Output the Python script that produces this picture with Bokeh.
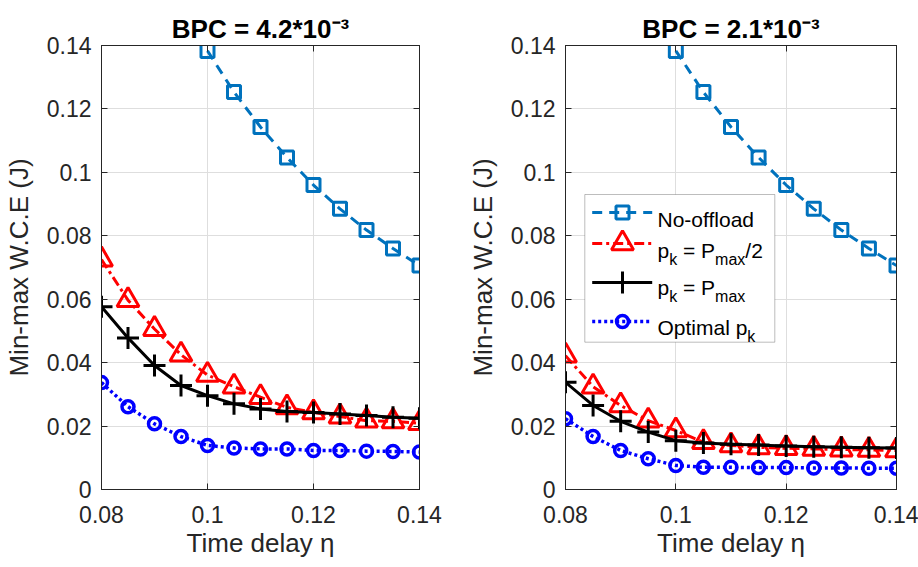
import math
from bokeh.plotting import figure
from bokeh.layouts import row
from bokeh.models import (Range1d, FixedTicker, CustomJSTickFormatter, LinearAxis,
                          Label, BoxAnnotation, Title)
from bokeh.embed import file_html
from bokeh.resources import INLINE

# ---------------- data ----------------
eta = [0.08, 0.085, 0.09, 0.095, 0.10, 0.105, 0.11, 0.115, 0.12, 0.125, 0.13, 0.135, 0.14]
eta_nooffload = [0.10, 0.105, 0.11, 0.115, 0.12, 0.125, 0.13, 0.135, 0.14]

left_nooffload = [0.1383, 0.1253, 0.1143, 0.1047, 0.0960, 0.0885, 0.0818, 0.0760, 0.0706]
left_half = [0.0725, 0.0597, 0.0506, 0.0425, 0.0361, 0.0324, 0.0291, 0.0259, 0.0243, 0.0230, 0.0217, 0.0215, 0.0209]
left_full = [0.0576, 0.0478, 0.0391, 0.0328, 0.0296, 0.0270, 0.0254, 0.0246, 0.0243, 0.0238, 0.0233, 0.0228, 0.0225]
left_opt = [0.0337, 0.0261, 0.0207, 0.0167, 0.0139, 0.0131, 0.0128, 0.0128, 0.0123, 0.0123, 0.0121, 0.0120, 0.0118]

right_nooffload = [0.1383, 0.1253, 0.1143, 0.1047, 0.0960, 0.0885, 0.0818, 0.0760, 0.0706]
right_half = [0.0422, 0.0324, 0.0265, 0.0217, 0.0186, 0.0149, 0.0139, 0.0133, 0.0130, 0.0128, 0.0126, 0.0125, 0.0123]
right_full = [0.0338, 0.0265, 0.0215, 0.0181, 0.0154, 0.0147, 0.0143, 0.0140, 0.0137, 0.0135, 0.0133, 0.0132, 0.0131]
right_opt = [0.0223, 0.0167, 0.0123, 0.0097, 0.0076, 0.0070, 0.0070, 0.0069, 0.0069, 0.0068, 0.0068, 0.0067, 0.0067]

x_ticks = [0.08, 0.10, 0.12, 0.14]
y_ticks = [0.0, 0.02, 0.04, 0.06, 0.08, 0.10, 0.12, 0.14]
titles = ["BPC = 4.2*10\u207b\u00b3", "BPC = 2.1*10\u207b\u00b3"]
x_label = "Time delay \u03b7"
y_label = "Min-max W.C.E (J)"

# ---------------- style ----------------
FONT = "Liberation Sans"
AX = "#262626"
GRID = "#dedede"
C_NOOFF = "#0072BD"
C_HALF = "#FF0000"
C_FULL = "#000000"
C_OPT = "#0000FF"

XR = (0.08, 0.14)
YR = (0.0, 0.14)
FIG_H = 567
TOP, BOTTOM = 45, 78
FH = FIG_H - TOP - BOTTOM

W_REG = {' ': 278, '(': 333, ')': 333, '*': 389, '-': 333, '.': 278, '/': 278, '=': 584,
         'B': 667, 'C': 722, 'E': 667, 'J': 500, 'M': 833, 'N': 722, 'O': 778, 'P': 667,
         'T': 611, 'W': 944, 'a': 556, 'd': 556, 'e': 556, 'f': 278, 'i': 222, 'k': 500,
         'l': 222, 'm': 833, 'n': 556, 'o': 556, 'p': 556, 't': 278, 'x': 500, 'y': 500}

SQ_SIZE, TRI_SIZE, CROSS_SIZE, CIRC_SIZE = 13, 22, 22, 12


def tw(s, size):
    return sum(W_REG.get(ch, 556) for ch in s) / 1000.0 * size


def make_panel(width, left, right, title):
    fw = width - left - right
    p = figure(width=width, height=FIG_H, x_range=Range1d(*XR), y_range=Range1d(*YR),
               min_border_left=left, min_border_right=right, min_border_top=TOP,
               min_border_bottom=BOTTOM, output_backend="svg", toolbar_location=None,
               title=None)
    p.background_fill_color = "white"
    p.border_fill_color = "white"
    p.outline_line_color = AX
    p.outline_line_width = 1

    fmt = CustomJSTickFormatter(code="return String(parseFloat(tick.toFixed(4)));")
    blank = CustomJSTickFormatter(code="return '';")
    for ax in (p.xaxis[0], p.yaxis[0]):
        ax.axis_line_color = AX
        ax.major_tick_line_color = AX
        ax.major_tick_in = 6
        ax.major_tick_out = 0
        ax.minor_tick_line_color = None
        ax.major_label_text_font = FONT
        ax.major_label_text_font_size = "23px"
        ax.major_label_text_color = AX
        ax.formatter = fmt
        ax.axis_label_text_font = FONT
        ax.axis_label_text_font_size = "26px"
        ax.axis_label_text_font_style = "normal"
        ax.axis_label_text_color = AX
    p.xaxis[0].ticker = FixedTicker(ticks=x_ticks)
    p.yaxis[0].ticker = FixedTicker(ticks=y_ticks)
    p.xaxis[0].major_label_standoff = 16
    p.yaxis[0].major_label_standoff = 10
    p.yaxis[0].axis_label = y_label
    p.yaxis[0].axis_label_standoff = 10
    p.xaxis[0].axis_label = x_label
    p.xaxis[0].axis_label_standoff = 2

    for loc, ticks in (("right", y_ticks), ("above", x_ticks)):
        a = LinearAxis(ticker=FixedTicker(ticks=ticks), formatter=blank,
                       axis_line_color=AX, major_tick_line_color=AX,
                       major_tick_in=6, major_tick_out=0, minor_tick_line_color=None,
                       major_label_text_font_size="0px", major_label_standoff=0)
        p.add_layout(a, loc)

    t = Title(text=title, align="center", text_font=FONT, text_font_size="26px",
              text_font_style="bold", text_color="#000000", standoff=4)
    p.add_layout(t, "above")

    p.xgrid.ticker = FixedTicker(ticks=x_ticks)
    p.ygrid.ticker = FixedTicker(ticks=y_ticks)
    for g in (p.xgrid[0], p.ygrid[0]):
        g.grid_line_color = GRID
        g.grid_line_width = 1

    def X(px):
        return XR[0] + (px - left) / fw * (XR[1] - XR[0])

    def Y(py):
        return YR[1] - (py - TOP) / FH * (YR[1] - YR[0])

    return p, X, Y


def runs_text(p, X, Y, x_start, runs):
    x = x_start
    for text, size, base_py in runs:
        stripped = text.lstrip(" ")
        x += tw(text[:len(text) - len(stripped)], size)
        p.add_layout(Label(x=X(x), y=Y(base_py), x_units="data", y_units="data", text=stripped,
                           text_font=FONT, text_font_size=f"{size}px", text_color="#000000",
                           text_align="left", text_baseline="alphabetic"))
        x += tw(stripped, size)


def draw_series(p, nooff, half, full, opt):
    p.line(eta_nooffload, nooff, line_color=C_NOOFF, line_width=3, line_dash="10 7")
    p.scatter(eta_nooffload, nooff, marker="square", size=SQ_SIZE, line_color=C_NOOFF,
              line_width=3, fill_alpha=0)
    p.line(eta, half, line_color=C_HALF, line_width=3, line_dash="10 4 3 4")
    p.scatter(eta, half, marker="triangle", size=TRI_SIZE, line_color=C_HALF, line_width=3,
              fill_alpha=0)
    p.line(eta, full, line_color=C_FULL, line_width=3)
    p.scatter(eta, full, marker="cross", size=CROSS_SIZE, line_color=C_FULL, line_width=3)
    p.line(eta, opt, line_color=C_OPT, line_width=3.5, line_dash="3 3")
    p.scatter(eta, opt, marker="circle", size=CIRC_SIZE, line_color=C_OPT, line_width=3.5,
              fill_alpha=0)


# ---------------- panels ----------------
p1, X1, Y1 = make_panel(460, 99, 41, titles[0])
draw_series(p1, left_nooffload, left_half, left_full, left_opt)

p2, X2, Y2 = make_panel(458, 105, 22, titles[1])
draw_series(p2, right_nooffload, right_half, right_full, right_opt)

# ---------------- legend (right panel) ----------------
box = BoxAnnotation(left=X2(124.3), right=X2(314.3), top=Y2(194), bottom=Y2(341.7),
                    fill_color="white", fill_alpha=1.0, line_color=AX, line_width=1,
                    level="underlay")
p2.add_layout(box)
lx0, lx1, lm = 131.7, 191.7, 162
rows_y = [212, 243, 282, 321]
p2.line([X2(lx0), X2(lx1)], [Y2(rows_y[0])] * 2, line_color=C_NOOFF, line_width=3, line_dash="10 7")
p2.scatter([X2(lm)], [Y2(rows_y[0])], marker="square", size=SQ_SIZE, line_color=C_NOOFF, line_width=3, fill_alpha=0)
p2.line([X2(lx0), X2(lx1)], [Y2(rows_y[1])] * 2, line_color=C_HALF, line_width=3, line_dash="10 4 3 4")
p2.scatter([X2(lm)], [Y2(rows_y[1])], marker="triangle", size=TRI_SIZE, line_color=C_HALF, line_width=3, fill_alpha=0)
p2.line([X2(lx0), X2(lx1)], [Y2(rows_y[2])] * 2, line_color=C_FULL, line_width=3)
p2.scatter([X2(lm)], [Y2(rows_y[2])], marker="cross", size=CROSS_SIZE, line_color=C_FULL, line_width=3)
p2.line([X2(lx0), X2(lx1)], [Y2(rows_y[3])] * 2, line_color=C_OPT, line_width=3.5, line_dash="3 3")
p2.scatter([X2(lm)], [Y2(rows_y[3])], marker="circle", size=CIRC_SIZE, line_color=C_OPT, line_width=3.5, fill_alpha=0)

tx = 197
runs_text(p2, X2, Y2, tx, [("No-offload", 21, 219.3)])
runs_text(p2, X2, Y2, tx, [("p", 21, 250), ("k", 16, 259), (" = P", 21, 250),
                          ("max", 16, 259), ("/2", 21, 250)])
runs_text(p2, X2, Y2, tx, [("p", 21, 287), ("k", 16, 296), (" = P", 21, 287),
                          ("max", 16, 296)])
runs_text(p2, X2, Y2, tx, [("Optimal p", 21, 326.7), ("k", 16, 335.5)])

layout = row(p1, p2)
open("out.html", "w").write(file_html(layout, INLINE))
